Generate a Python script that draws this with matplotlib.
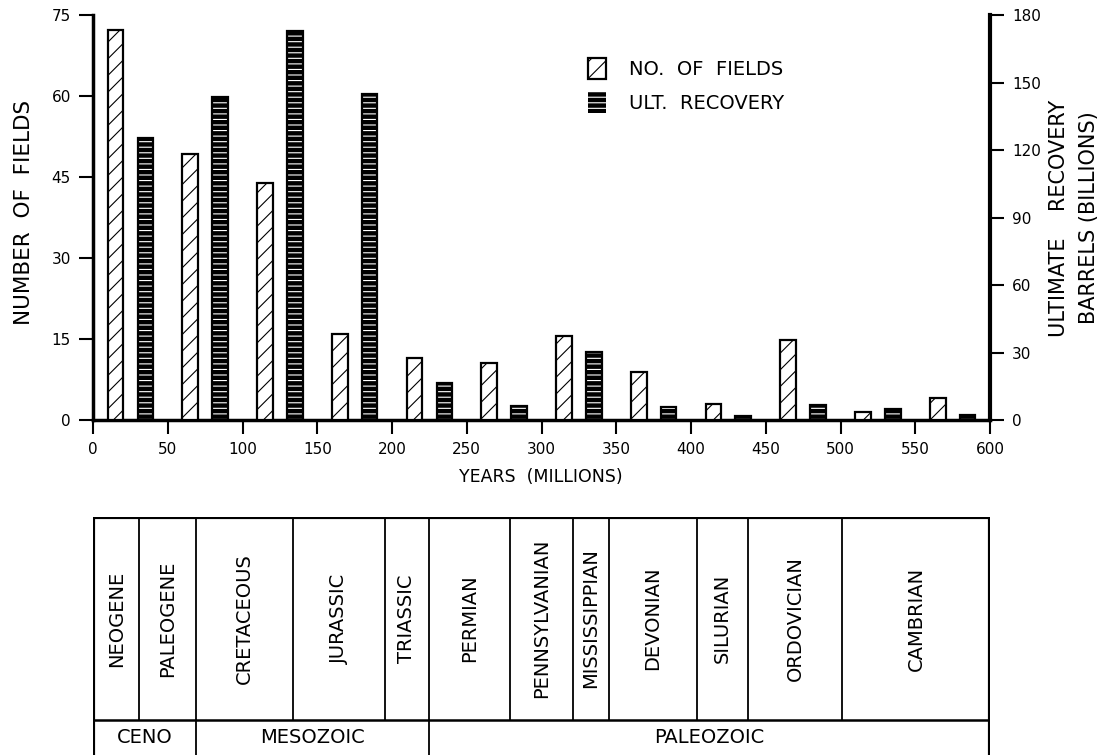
import matplotlib
matplotlib.use("Agg")
import matplotlib.pyplot as plt

# Data
field_ages = [15, 65, 115, 165, 215, 265, 315, 365, 415, 465, 515, 565]
num_fields = [72.2, 49.2, 43.8, 16.0, 11.5, 10.6, 15.6, 8.9, 2.9, 14.8, 1.4, 4.0]

recovery_ages = [35, 85, 135, 185, 235, 285, 335, 385, 435, 485, 535, 585]
ult_recovery = [125.5, 143.7, 173.0, 144.7, 16.3, 6.4, 30.1, 5.7, 1.8, 6.5, 4.8, 2.3]

periods = ["NEOGENE", "PALEOGENE", "CRETACEOUS", "JURASSIC", "TRIASSIC", "PERMIAN",
           "PENNSYLVANIAN", "MISSISSIPPIAN", "DEVONIAN", "SILURIAN", "ORDOVICIAN", "CAMBRIAN"]
eras = ["CENO", "MESOZOIC", "PALEOZOIC"]

# Table column layout (in the same 0-600 units as the x axis)
period_edges = [0, 31, 69, 134, 195, 225, 279, 321, 345, 404, 438, 501, 600]
era_edges = [0, 69, 225, 600]

plt.rcParams["font.family"] = "DejaVu Sans"
plt.rcParams["hatch.linewidth"] = 0.8

fig = plt.figure(figsize=(11.01, 7.55), dpi=100)
ax = fig.add_axes([0.0845, 0.4437, 0.8147, 0.5364])
ax2 = ax.twinx()

# Number of fields: white bars with diagonal hatch
fields = ax.bar(field_ages, num_fields, width=10.5, facecolor="white",
                edgecolor="black", hatch="//", linewidth=1.6, zorder=3)

# Ultimate recovery: black bars with thin white horizontal stripes
rec = ax2.bar(recovery_ages, ult_recovery, width=10.5, facecolor="black",
              edgecolor="white", hatch="---", linewidth=0, zorder=3)
ax2.bar(recovery_ages, ult_recovery, width=10.5, fill=False,
        edgecolor="black", linewidth=1.6, zorder=4)

ax.set_xlim(0, 600)
ax.set_ylim(0, 75)
ax2.set_ylim(0, 180)
ax.set_xticks(range(0, 601, 50))
ax.set_yticks(range(0, 76, 15))
ax2.set_yticks(range(0, 181, 30))

for a in (ax, ax2):
    a.tick_params(direction="out", length=10, width=1.5, labelsize=11, pad=6)
    a.spines["top"].set_visible(False)
ax.spines["right"].set_visible(False)
ax2.spines["left"].set_visible(False)
ax2.spines["bottom"].set_visible(False)
ax.spines["left"].set_linewidth(2.5)
ax.spines["bottom"].set_linewidth(2.5)
ax2.spines["right"].set_linewidth(3)

# Axis labels
fig.text(0.022, 0.718, "NUMBER  OF  FIELDS", rotation=90, ha="center", va="center", fontsize=15.5)
fig.text(0.962, 0.711, "ULTIMATE    RECOVERY", rotation=90, ha="center", va="center", fontsize=15)
fig.text(0.989, 0.712, "BARRELS (BILLIONS)", rotation=90, ha="center", va="center", fontsize=15)
fig.text(0.4915, 0.368, "YEARS  (MILLIONS)", ha="center", va="center", fontsize=12.5)

# Legend
ax2.legend([fields, rec], ["NO.  OF  FIELDS", "ULT.  RECOVERY"], loc="upper left",
           bbox_to_anchor=(588 / 1101, (755 - 58) / 755), bbox_transform=fig.transFigure,
           frameon=False, fontsize=14, handlelength=0.9, handleheight=1.3,
           handletextpad=1.2, labelspacing=0.65, borderpad=0, borderaxespad=0)

# Geologic time table below the chart
tab = fig.add_axes([0.0845, 0.0, 0.8147, (755 - 517) / 755])
tab.set_xlim(0, 600)
tab.set_ylim(0, 1)
tab.axis("off")
div = 35 / 238

# outer border and row divider
tab.plot([0, 0], [0, 1], color="black", lw=3, solid_capstyle="butt")
tab.plot([600, 600], [0, 1], color="black", lw=3, solid_capstyle="butt")
tab.plot([0, 600], [1, 1], color="black", lw=3, solid_capstyle="projecting")
tab.plot([0, 600], [div, div], color="black", lw=1.8)

for i, name in enumerate(periods):
    x0, x1 = period_edges[i], period_edges[i + 1]
    if i > 0:
        tab.plot([x0, x0], [div, 1], color="black", lw=1.3)
    tab.text((x0 + x1) / 2, (div + 1) / 2, name, rotation=90, ha="center", va="center",
             fontsize=14)

for i, name in enumerate(eras):
    x0, x1 = era_edges[i], era_edges[i + 1]
    if i > 0:
        tab.plot([x0, x0], [0, div], color="black", lw=1.3)
    tab.text((x0 + x1) / 2, div / 2, name, ha="center", va="center", fontsize=14)

fig.savefig("out.png", dpi=100)
